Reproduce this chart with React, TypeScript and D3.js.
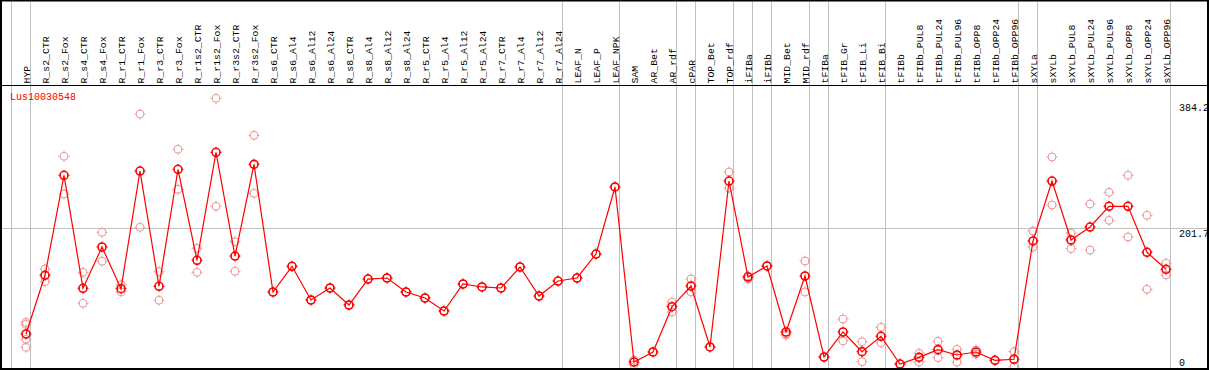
import { useRef, useEffect } from 'react';
import * as d3 from 'd3';

const geneName = 'Lus10030548';

const categories = [
  'HYP', 'R_s2_CTR', 'R_s2_Fox', 'R_s4_CTR', 'R_s4_Fox', 'R_r1_CTR', 'R_r1_Fox', 'R_r3_CTR', 'R_r3_Fox',
  'R_r1s2_CTR', 'R_r1s2_Fox', 'R_r3s2_CTR', 'R_r3s2_Fox', 'R_s6_CTR', 'R_s6_Al4', 'R_s6_Al12', 'R_s6_Al24',
  'R_s8_CTR', 'R_s8_Al4', 'R_s8_Al12', 'R_s8_Al24', 'R_r5_CTR', 'R_r5_Al4', 'R_r5_Al12', 'R_r5_Al24',
  'R_r7_CTR', 'R_r7_Al4', 'R_r7_Al12', 'R_r7_Al24', 'LEAF_N', 'LEAF_P', 'LEAF_NPK', 'SAM', 'AR_Bet', 'AR_rdf',
  'cPAR', 'TOP_Bet', 'TOP_rdf', 'iFIBa', 'iFIBb', 'MID_Bet', 'MID_rdf', 'tFIBa', 'tFIB_Gr', 'tFIB_Li', 'tFIB_Bi',
  'tFIBb', 'tFIBb_PUL8', 'tFIBb_PUL24', 'tFIBb_PUL96', 'tFIBb_OPP8', 'tFIBb_OPP24', 'tFIBb_OPP96',
  'sXYLa', 'sXYLb', 'sXYLb_PUL8', 'sXYLb_PUL24', 'sXYLb_PUL96', 'sXYLb_OPP8', 'sXYLb_OPP24', 'sXYLb_OPP96'
];

// mean expression per sample
const means = [
  47.8, 132.8, 277.6, 114.0, 173.8, 113.4, 283.8, 116.9, 286.3,
  154.5, 310.9, 160.7, 293.5, 108.6, 145.8, 97.0, 114.4,
  89.8, 127.4, 128.9, 108.6, 99.9, 81.1, 120.2, 115.9,
  114.4, 144.8, 102.8, 124.5, 128.9, 163.6, 260.7, 7.2, 21.7, 87.3,
  117.3, 29.0, 269.3, 130.3, 146.3, 50.7, 131.8, 14.5, 50.7, 22.2, 44.5,
  4.3, 14.0, 25.1, 17.4, 21.7, 9.7, 11.2,
  182.5, 269.3, 183.9, 202.7, 232.7, 232.7, 166.1, 141.5
];

// individual replicates
const replicates = [
  [64.7, 61.8, 40.1, 28.5], [141.9, 123.5], [305.1, 250.5], [137.1, 92.2], [195.1, 153.1], [119.2, 109.0],
  [366.4, 202.3], [138.0, 96.6], [315.3, 257.3], [171.9, 137.1], [389.1, 232.7], [181.5, 138.6],
  [335.5, 251.5], [108.6], [145.8], [97.0], [114.4], [89.8], [127.4], [128.9], [108.6], [99.9], [81.1],
  [120.2], [115.9], [114.4], [144.8], [102.8], [124.5], [128.9], [163.6], [260.7], [10.1, 2.9], [21.7],
  [94.1, 79.6], [127.4, 108.6], [29.0], [282.4, 259.2], [131.8, 127.4], [146.3], [47.8, 46.3],
  [153.5, 108.6], [14.5], [69.5, 37.7], [36.6, 7.7], [57.5, 35.2], [4.3], [19.8, 7.2], [37.2, 13.5],
  [25.6, 7.2], [24.6, 18.8], [9.7], [22.2, 0.4], [197.0, 173.8], [304.1, 234.6], [194.0, 171.4],
  [236.1, 169.4], [253.0, 212.4], [277.6, 188.3], [219.7, 112.5], [150.2, 133.2]
];

// groups end after these samples
const groupEnds = [
  'HYP', 'R_r7_Al24', 'LEAF_NPK', 'AR_rdf', 'cPAR', 'TOP_rdf', 'iFIBa', 'iFIBb', 'MID_rdf', 'tFIBa',
  'tFIB_Bi', 'tFIBb_OPP96', 'sXYLa', 'sXYLb_OPP96'
];

const yTicks = [0, 201.7, 384.2];

const width = 1209;
const height = 370;
const headerBottom = 85.5;
const font = '"Liberation Mono", "DejaVu Sans Mono", monospace';

export default function App() {
  const gMarks = useRef<SVGGElement>(null);

  const x = d3.scaleLinear([0, categories.length - 1], [26, 1166]);
  const y = d3.scaleLinear([0, 384.2], [367, 101.7]);

  useEffect(() => {
    const g = d3.select(gMarks.current);
    g.selectAll('*').remove();

    const marker = (sel, color, sw) => {
      sel.append('circle').attr('r', 4).attr('fill', 'none').attr('stroke', color).attr('stroke-width', sw);
      [[0, -1], [0, 1], [-1, 0], [1, 0]].forEach(([dx, dy]) => {
        sel.append('line')
          .attr('x1', dx * 3).attr('y1', dy * 3)
          .attr('x2', dx * 5.5).attr('y2', dy * 5.5)
          .attr('stroke', color).attr('stroke-width', 1);
      });
    };

    const reps = replicates.flatMap((r, i) => r.map(v => [i, v]));
    g.append('g').selectAll('g').data(reps).join('g')
      .attr('transform', d => `translate(${x(d[0])},${y(d[1])})`)
      .each(function () { marker(d3.select(this), '#eb9b9b', 1); });

    const line = d3.line<number>().x((_d, i) => x(i)).y(d => y(d));
    g.append('path').attr('d', line(means)).attr('fill', 'none').attr('stroke', '#ff0000').attr('stroke-width', 1.2);

    g.append('g').selectAll('g').data(means).join('g')
      .attr('transform', (d, i) => `translate(${x(i)},${y(d)})`)
      .each(function () { marker(d3.select(this), '#ff0000', 1.6); });
  }, []);

  const sepX = [x(-1) + 4, ...groupEnds.map(n => x(categories.indexOf(n)) + 4)];

  return (
    <svg width={width} height={height} style={{ position: 'absolute', left: 0, top: 0 }}>
      <rect x={0} y={0} width={width} height={height} fill="white" />
      {sepX.map((sx, i) => (
        <line key={i} x1={Math.round(sx) + 0.5} x2={Math.round(sx) + 0.5} y1={0} y2={369} stroke="#c0c0c0" />
      ))}
      <line x1={2} x2={1208} y1={Math.round(y(201.7)) + 0.5} y2={Math.round(y(201.7)) + 0.5} stroke="#c0c0c0" />
      <g fontFamily={font} fontSize={9.8} fill="black">
        {categories.map((c, i) => (
          <text key={c} transform={`translate(${x(i) + 3.5},${headerBottom - 2}) rotate(-90)`}>{c}</text>
        ))}
      </g>
      <g fontFamily={font} fontSize={10} fill="black">
        {yTicks.map(t => (
          <text key={t} x={1179} y={Math.min(y(t) + 9, 366)}>{t}</text>
        ))}
      </g>
      <text x={10} y={100} fontFamily={font} fontSize={10} fill="#ff0000">{geneName}</text>
      <g ref={gMarks} />
      <line x1={1} x2={1208} y1={headerBottom} y2={headerBottom} stroke="black" />
      <rect x={1} y={0.5} width={1207} height={368.5} fill="none" stroke="black" strokeWidth={2} />
    </svg>
  );
}
